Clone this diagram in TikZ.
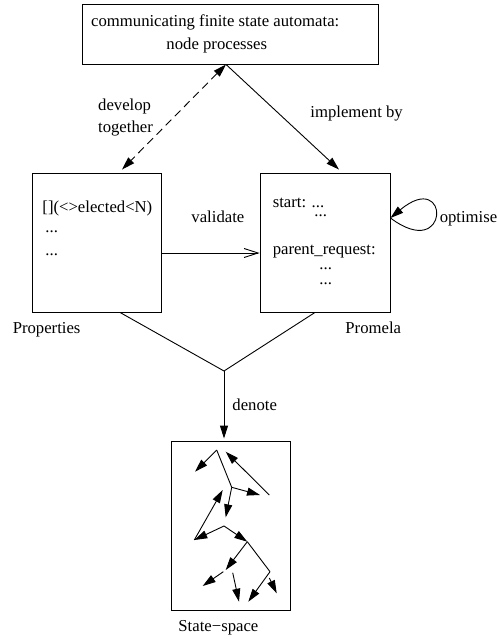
\documentclass[tikz,border=0pt]{standalone}
\usepackage{fontspec}
\setmainfont{Liberation Serif}
\usetikzlibrary{arrows.meta}
\begin{document}
\begin{tikzpicture}[x=1pt,y=-1pt,line width=0.9pt,
  box/.style={draw,inner sep=0pt,line width=0.9pt},
  lbl/.style={inner sep=0pt,anchor=base west,font=\fontsize{16.7}{20}\selectfont},
  tip/.style={-{Triangle[length=13pt,width=8pt]}},
  dtip/.style={{Triangle[length=13pt,width=8pt]}-{Triangle[length=13pt,width=8pt]},dash pattern=on 8pt off 5pt},
  otip/.style={-{Straight Barb[length=14pt,width=9pt,line width=0.9pt]}}]
\useasboundingbox (0,0) rectangle (496,639);
% boxes
\node[box,minimum width=296pt,minimum height=60pt] (top) at (230,34) {};
\node[box,minimum width=129pt,minimum height=139pt] (pp) at (96.5,242.5) {};
\node[box,minimum width=130pt,minimum height=139pt] (pr) at (325,242.5) {};
\node[box,minimum width=119pt,minimum height=169pt] (ss) at (230.5,525.5) {};
% texts
\node[lbl] (t1) at (90.7,26.7) {communicating finite state automata:};
\node[lbl] (t2) at (166,49.3) {node processes};
\node[lbl] (dev) at (97.7,111) {develop};
\node[lbl] (tog) at (97.7,133) {together};
\node[lbl] (impl) at (310,118) {implement by};
\node[lbl] (p1) at (42,212.3) {[](<>elected<N)};
\node[lbl] (p2) at (45,232.7) {...};
\node[lbl] (p3) at (45,255) {...};
\node[lbl] (val) at (191,222.3) {validate};
\node[lbl] (s1) at (272.3,207.7) {start: ...};
\node[lbl] (s2) at (314,216) {...};
\node[lbl] (s3) at (272.3,254.3) {parent\_request:};
\node[lbl] (s4) at (319,269.3) {...};
\node[lbl] (s5) at (319,284.3) {...};
\node[lbl] (opt) at (439.3,222.3) {optimise};
\node[lbl] (propl) at (12.3,333.3) {Properties};
\node[lbl] (proml) at (345,333.3) {Promela};
\node[lbl] (den) at (232,410) {denote};
\node[lbl] (ssl) at (178,631.7) {State−space};
% connectors
\draw[dtip] ([xshift=-4pt]top.south) -- ([xshift=25.5pt,yshift=3pt]pp.north);
\draw[tip] ([xshift=-4pt]top.south) -- ([xshift=14pt,yshift=3pt]pr.north);
\draw[otip] ([yshift=-10.5pt]pp.east) -- ([yshift=-10.5pt]pr.west);
\coordinate (lp) at ([yshift=24.5pt]pr.east);
\draw[tip] (lp) .. controls +(60,45) and +(60,-50) .. (lp);
\coordinate (j) at (224,371);
\draw ([xshift=23.5pt]pp.south) -- (j) -- ([xshift=-10pt]pr.south);
\draw[tip] (j) -- ([xshift=-6.5pt,yshift=2pt]ss.north);
% state-space graph
\draw[tip] (216.7,450) -- (195,471.7);
\draw (216.7,450) -- (231.7,487.3);
\draw[tip] (269.3,495) -- (225.7,451.7);
\draw[tip] (231.7,487.3) -- (260,495);
\draw[tip] (231.7,487.3) -- (225.7,517.3);
\draw[tip] (194.3,540) -- (222.7,490);
\draw[tip] (224,526) -- (194.3,540);
\draw[tip] (224,526) -- (247.3,541.7);
\draw[tip] (247.3,541.7) -- (225.7,570);
\draw (247.3,541.7) -- (270,571.7);
\draw[tip] (223.3,571.7) -- (202.7,586);
\draw[tip] (232.7,572.7) -- (239,601.7);
\draw[tip] (270,571.7) -- (248.3,601.7);
\draw[tip] (269.3,578) -- (276.7,593.3);
\end{tikzpicture}
\end{document}
